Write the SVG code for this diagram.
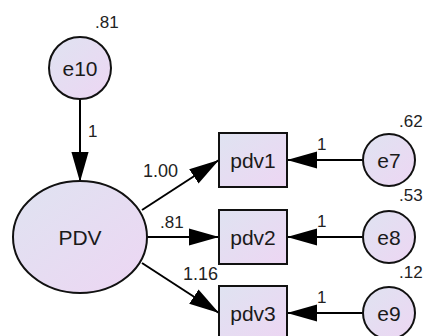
<svg xmlns="http://www.w3.org/2000/svg" width="423" height="336" viewBox="0 0 423 336">
<defs>
<linearGradient id="g" x1="0" y1="0" x2="1" y2="1">
<stop offset="0" stop-color="#dfe3f1"/>
<stop offset="1" stop-color="#edd6f3"/>
</linearGradient>
<marker id="ah" markerUnits="userSpaceOnUse" markerWidth="30" markerHeight="18" viewBox="0 0 28 16" refX="28" refY="8" orient="auto">
<path d="M0,0 L28,8 L0,16 z" fill="#000"/>
</marker>
<style>
.n{fill:url(#g);stroke:#111;stroke-width:2}
.t{font-family:"Liberation Sans",Arial,sans-serif;font-size:21px;fill:#1a1a1a;text-anchor:middle}
.l{font-family:"Liberation Sans",Arial,sans-serif;font-size:17px;fill:#222}
.c{stroke:#000;stroke-width:2;fill:none;marker-end:url(#ah)}
</style>
</defs>
<rect width="423" height="336" fill="#fff"/>
<g id="connectors">
<line class="c" x1="80" y1="99" x2="80" y2="182"/>
<line class="c" x1="142" y1="210" x2="219" y2="160"/>
<line class="c" x1="147" y1="237" x2="219" y2="237"/>
<line class="c" x1="142" y1="263" x2="219" y2="313"/>
<line class="c" x1="363" y1="160" x2="287" y2="160"/>
<line class="c" x1="363" y1="237" x2="287" y2="237"/>
<line class="c" x1="363" y1="313" x2="287" y2="313"/>
<text class="l" x="88" y="137">1</text>
<text class="l" x="143" y="177" style="font-size:18px">1.00</text>
<text class="l" x="160" y="228">.81</text>
<text class="l" x="183" y="280" style="font-size:18px">1.16</text>
<text class="l" x="317" y="150">1</text>
<text class="l" x="317" y="227">1</text>
<text class="l" x="317" y="303">1</text>
</g>
<g id="e10">
<circle class="n" cx="80" cy="68" r="31"/>
<text class="t" x="80" y="76">e10</text>
<text class="l" x="95" y="28">.81</text>
</g>
<g id="PDV">
<ellipse class="n" cx="80" cy="237" rx="67" ry="56"/>
<text class="t" x="80" y="245">PDV</text>
</g>
<g id="pdv1">
<rect class="n" x="219" y="133" width="68" height="54"/>
<text class="t" x="253" y="168">pdv1</text>
</g>
<g id="pdv2">
<rect class="n" x="219" y="210" width="68" height="54"/>
<text class="t" x="253" y="245">pdv2</text>
</g>
<g id="pdv3">
<rect class="n" x="219" y="286" width="68" height="54"/>
<text class="t" x="253" y="321">pdv3</text>
</g>
<g id="e7">
<circle class="n" cx="389" cy="160" r="26"/>
<text class="t" x="389" y="168">e7</text>
<text class="l" x="399" y="127">.62</text>
</g>
<g id="e8">
<circle class="n" cx="389" cy="237" r="26"/>
<text class="t" x="389" y="245">e8</text>
<text class="l" x="399" y="201">.53</text>
</g>
<g id="e9">
<circle class="n" cx="389" cy="313" r="26"/>
<text class="t" x="389" y="321">e9</text>
<text class="l" x="399" y="278">.12</text>
</g>
</svg>
